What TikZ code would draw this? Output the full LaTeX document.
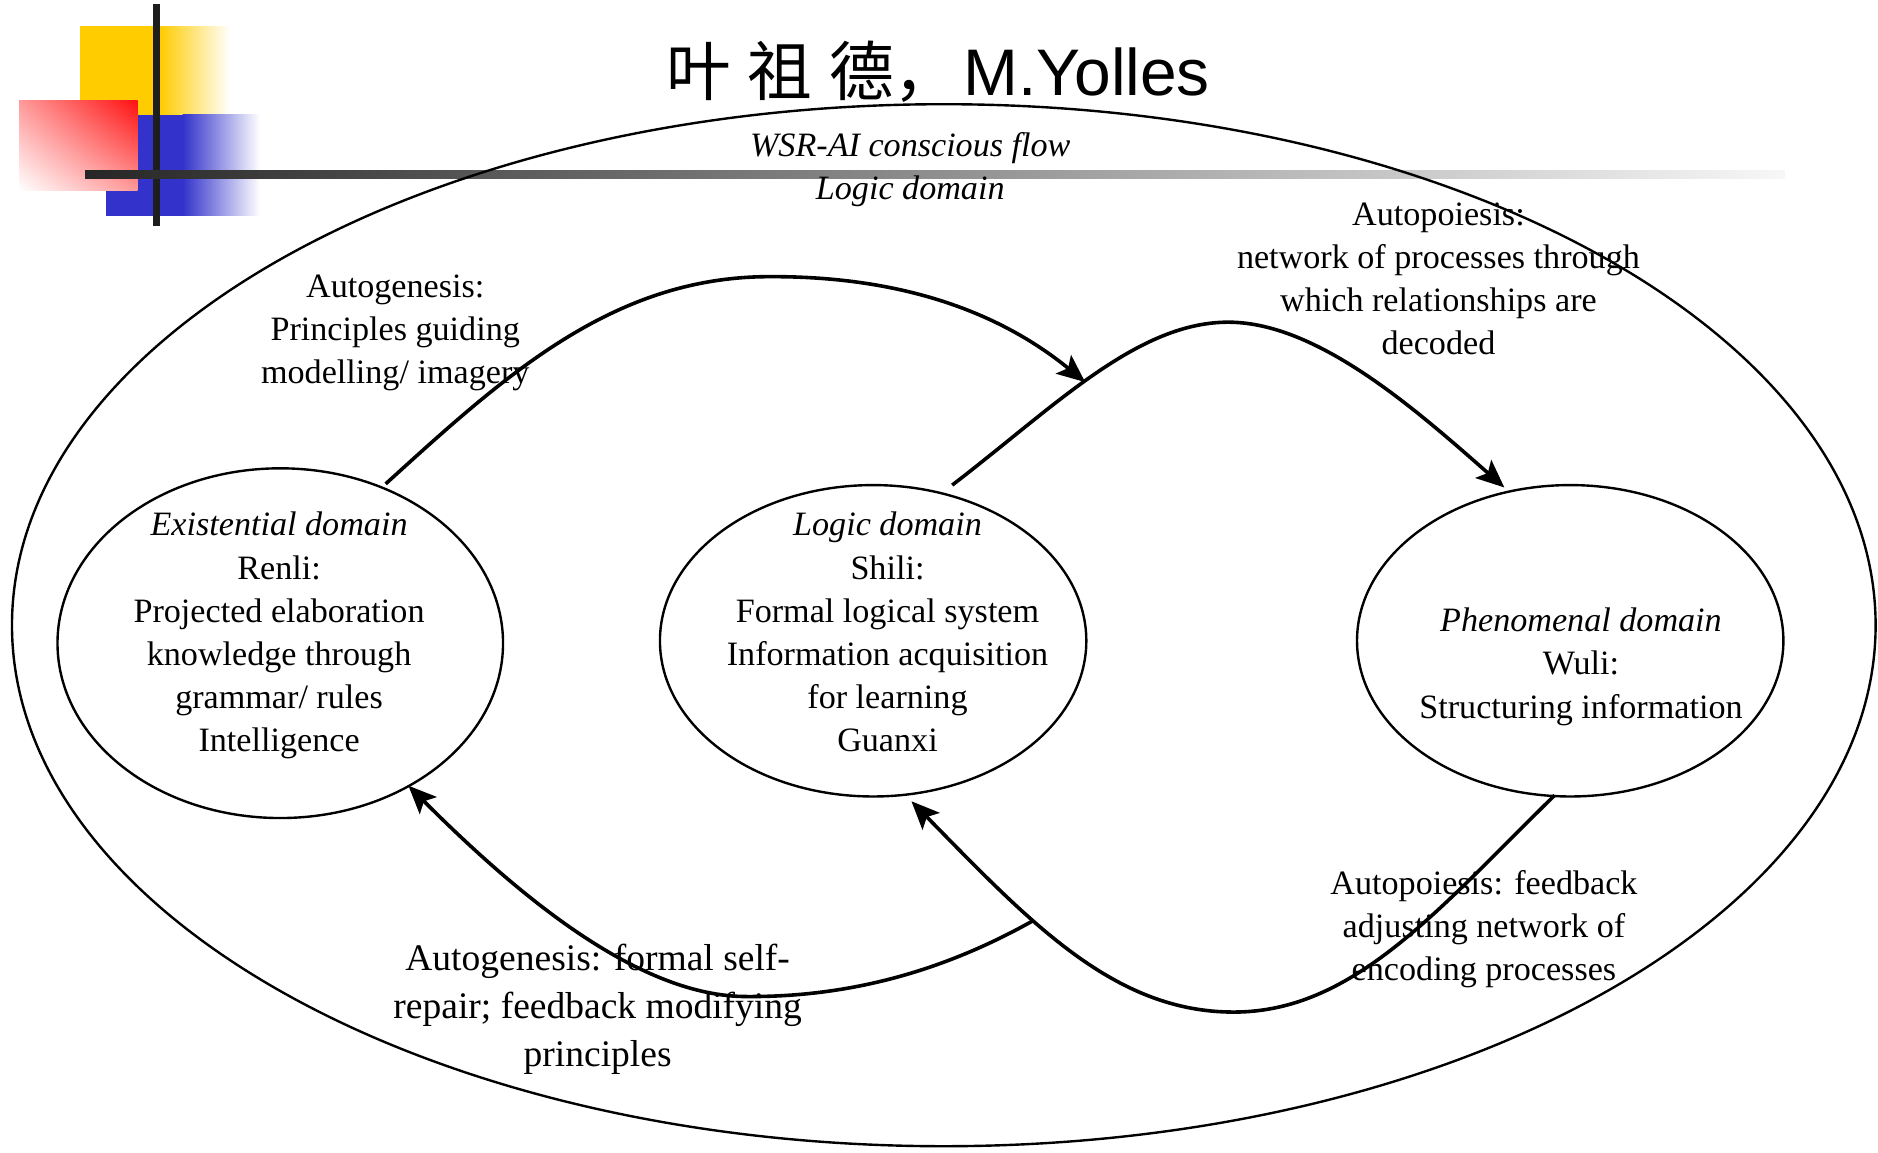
\documentclass[tikz,border=0pt]{standalone}
\usepackage{fontspec}
\setmainfont{Liberation Serif}
\newfontfamily\titlefont{Liberation Sans}
\newfontfamily\cjk{Noto Sans CJK SC}
\usetikzlibrary{shapes.geometric,arrows.meta,shadings}

\definecolor{decoyellow}{RGB}{255,204,0}
\definecolor{decored}{RGB}{255,16,16}
\definecolor{decoblue}{RGB}{51,51,204}
\definecolor{bardark}{RGB}{30,30,30}

\begin{document}
\begin{tikzpicture}[x=0.6pt, y=-0.6pt,
  domainbox/.style={draw, ellipse, line width=1.2pt, inner sep=0pt},
  txt/.style={align=center, inner sep=0pt, font=\fontsize{17.1}{21.6}\selectfont,
    execute at begin node=\strut, execute at end node=\strut},
  bigtxt/.style={txt, font=\fontsize{18.8}{24}\selectfont},
  flowarrow/.style={line width=1.8pt, -{Stealth[length=14pt,width=12pt,inset=3pt]}}
]
\useasboundingbox (0,0) rectangle (1568,962);

% corner ornament
\fill[decoyellow] (67,22) rectangle (134,96);
\shade[left color=decoyellow, right color=white] (133.5,22) rectangle (192,96);
\fill[decoblue] (88.5,96) rectangle (153,180);
\shade[left color=decoblue, right color=white] (152.5,96) rectangle (217,180);
\shade[upper left=red!40, upper right=decored, lower left=white, lower right=red!40] (16,83.5) rectangle (115,159);
\fill[bardark] (128,3.3) rectangle (133.6,189);
\shade[left color=black!85, middle color=black!40, right color=black!3] (71,142) rectangle (1490,149);

% title
\node[anchor=base west, inner sep=0pt, font=\cjk\fontsize{32.4}{36}\selectfont] (titlecn) at (556,80) {叶\hspace{8.4pt}祖\hspace{8.4pt}德，};
\node[anchor=base west, inner sep=0pt, font=\titlefont\fontsize{33}{36}\selectfont] (titleen) at (804,80) {M.Yolles};

% outer domain and the three inner domains
\node[domainbox, minimum width=933.6pt, minimum height=522pt] (outer) at (788,522) {};
\node[domainbox, minimum width=223.2pt, minimum height=175.2pt] (exist) at (234,537) {};
\node[domainbox, minimum width=213.6pt, minimum height=156pt] (logic) at (729,535) {};
\node[domainbox, minimum width=213.6pt, minimum height=156pt] (phen) at (1311,535) {};

% texts
\node[txt] (flowtitle) at (760,144) {\itshape WSR-AI conscious flow\\\itshape Logic domain};
\node[txt] (existtxt) at (233,533) {\itshape Existential domain\\Renli:\\Projected elaboration\\knowledge through\\grammar/ rules\\Intelligence};
\node[txt] (logictxt) at (741,533) {\itshape Logic domain\\Shili:\\Formal logical system\\Information acquisition\\for learning\\Guanxi};
\node[txt] (phentxt) at (1320,559) {\itshape Phenomenal domain\\Wuli:\\Structuring information};
\node[txt] (agtop) at (330,280) {Autogenesis:\\Principles guiding\\modelling/ imagery};
\node[txt] (aptop) at (1201,238) {Autopoiesis:\\network of processes through\\which relationships are\\decoded};
\node[txt] (apbot) at (1239,778) {Autopoiesis: feedback\\adjusting network of\\encoding processes};
\node[bigtxt] (agbot) at (499,845) {Autogenesis: formal self-\\repair; feedback modifying\\principles};

% flow connectors
\coordinate (a1s) at (322,404);
\coordinate (a1e) at (906,319);
\coordinate (a2s) at (795,405);
\coordinate (a2e) at (1256,407);
\coordinate (a3s) at (1298,664);
\coordinate (a3e) at (761,669);
\coordinate (a4s) at (862,769);
\coordinate (a4e) at (341,656);

\draw[flowarrow] (a1s) .. controls (420,315) and (510,232) .. (640,231)
  .. controls (760,230) and (840,265) .. (a1e);
\draw[flowarrow] (a2s) .. controls (880,340) and (950,268) .. (1027,269)
  .. controls (1100,270) and (1180,340) .. (a2e);
\draw[flowarrow] (a3s) .. controls (1200,760) and (1130,845) .. (1030,845)
  .. controls (930,845) and (860,770) .. (a3e);
\draw[flowarrow] (a4s) .. controls (780,815) and (700,833) .. (620,832)
  .. controls (530,830) and (430,745) .. (a4e);
\end{tikzpicture}
\end{document}
